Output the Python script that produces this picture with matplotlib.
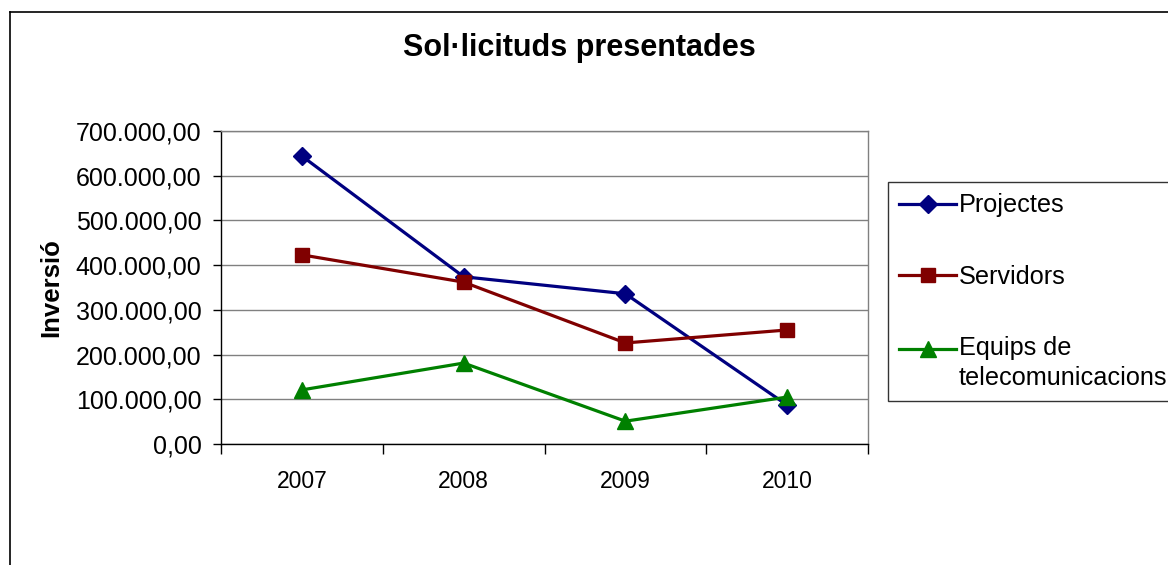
import matplotlib.pyplot as plt
from matplotlib.lines import Line2D
from matplotlib.ticker import FuncFormatter, MultipleLocator
from matplotlib.transforms import Affine2D

# Data
years = ['2007', '2008', '2009', '2010']
projectes = [644000, 374000, 336000, 87000]
servidors = [423000, 362000, 226000, 255000]
equips = [121000, 181000, 51000, 105000]

plt.rcParams['font.family'] = ['Liberation Sans', 'DejaVu Sans']

fig = plt.figure(figsize=(11.68, 5.65), dpi=100)
ax = fig.add_axes([221 / 1168, 1 - 444 / 565, (868 - 221) / 1168, (444 - 131) / 565])

x = list(range(len(years)))
ax.plot(x, projectes, color='#000080', lw=2.3, marker='D', ms=9, label='Projectes')
ax.plot(x, servidors, color='#800000', lw=2.3, marker='s', ms=10, label='Servidors')
ax.plot(x, equips, color='#008000', lw=2.3, marker='^', ms=12,
        label='Equips de\ntelecomunicacions')

ax.set_xlim(-0.5, len(years) - 0.5)
ax.set_ylim(0, 700000)
ax.yaxis.set_major_locator(MultipleLocator(100000))


def fmt(v, pos):
    s = f"{v:,.2f}"
    return s.replace(',', 'X').replace('.', ',').replace('X', '.')


ax.yaxis.set_major_formatter(FuncFormatter(fmt))
ax.set_xticks(x)
ax.set_xticklabels(years, family=['Liberation Sans Narrow', 'Liberation Sans'], fontsize=16.5)
ax.set_xticks([i - 0.5 for i in range(len(years) + 1)], minor=True)
ax.tick_params(axis='x', which='major', length=0, pad=19)
ax.tick_params(axis='x', which='minor', length=7, width=1, color='black')
ax.tick_params(axis='y', length=6, width=1, color='black', labelsize=18, pad=8)

ax.grid(axis='y', color='#808080', lw=1)
ax.set_axisbelow(True)
for side in ['top', 'right']:
    ax.spines[side].set_color('#808080')
    ax.spines[side].set_linewidth(1)
for side in ['left', 'bottom']:
    ax.spines[side].set_color('black')
    ax.spines[side].set_linewidth(1)

ax.set_ylabel('Inversió', fontsize=18.5, fontweight='bold')
ax.yaxis.set_label_coords(-0.244, 0.5)

fig.text(579 / 1168, 1 - 48 / 565, 'Sol·licituds presentades', fontsize=22,
         fontweight='bold', ha='center', va='center')

leg = fig.legend(loc='upper left', bbox_to_anchor=(888 / 1168, 1 - 182 / 565),
                 fontsize=18.2, frameon=True, fancybox=False, edgecolor='black',
                 handlelength=2.25, handletextpad=0.1, labelspacing=1.87,
                 borderpad=0.45, borderaxespad=0)
leg.get_frame().set_linewidth(1)
leg.get_texts()[2].set_linespacing(1.3)
# keep the last marker level with the first line of its label
h = leg.legend_handles[2]
h.set_transform(h.get_transform() + Affine2D().translate(0, 14))

# outer chart border
fig.add_artist(Line2D([10 / 1168, 10 / 1168], [0, 1 - 12 / 565], color='black', lw=1.2))
fig.add_artist(Line2D([10 / 1168, 1], [1 - 12 / 565, 1 - 12 / 565], color='black', lw=1.2))

plt.savefig('out.png')
